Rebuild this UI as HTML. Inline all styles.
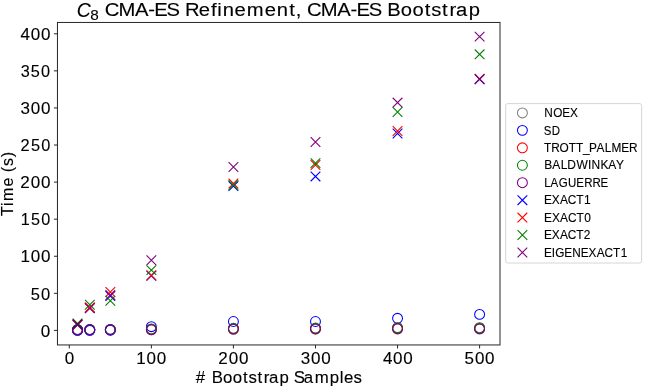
<!DOCTYPE html>
<html><head><meta charset="utf-8"><style>
html,body{margin:0;padding:0;background:#fff;}
svg{display:block;will-change:transform;filter:blur(0.3px);}
text{font-family:"Liberation Sans", sans-serif;fill:#000;stroke:#000;stroke-width:0.12px;font-kerning:none;font-variant-ligatures:none;}
</style></head><body>
<svg width="645" height="391" viewBox="0 0 645 391">
<rect width="645" height="391" fill="#fff"/>
<rect x="57.45" y="22.45" width="442.55" height="322.50" fill="none" stroke="#262626" stroke-width="1.0"/>
<line x1="53.95" y1="330.40" x2="57.45" y2="330.40" stroke="#262626" stroke-width="1.0"/>
<line x1="53.95" y1="293.32" x2="57.45" y2="293.32" stroke="#262626" stroke-width="1.0"/>
<line x1="53.95" y1="256.25" x2="57.45" y2="256.25" stroke="#262626" stroke-width="1.0"/>
<line x1="53.95" y1="219.17" x2="57.45" y2="219.17" stroke="#262626" stroke-width="1.0"/>
<line x1="53.95" y1="182.10" x2="57.45" y2="182.10" stroke="#262626" stroke-width="1.0"/>
<line x1="53.95" y1="145.02" x2="57.45" y2="145.02" stroke="#262626" stroke-width="1.0"/>
<line x1="53.95" y1="107.95" x2="57.45" y2="107.95" stroke="#262626" stroke-width="1.0"/>
<line x1="53.95" y1="70.87" x2="57.45" y2="70.87" stroke="#262626" stroke-width="1.0"/>
<line x1="53.95" y1="33.80" x2="57.45" y2="33.80" stroke="#262626" stroke-width="1.0"/>
<line x1="69.30" y1="344.95" x2="69.30" y2="348.45" stroke="#262626" stroke-width="1.0"/>
<line x1="151.36" y1="344.95" x2="151.36" y2="348.45" stroke="#262626" stroke-width="1.0"/>
<line x1="233.42" y1="344.95" x2="233.42" y2="348.45" stroke="#262626" stroke-width="1.0"/>
<line x1="315.48" y1="344.95" x2="315.48" y2="348.45" stroke="#262626" stroke-width="1.0"/>
<line x1="397.54" y1="344.95" x2="397.54" y2="348.45" stroke="#262626" stroke-width="1.0"/>
<line x1="479.60" y1="344.95" x2="479.60" y2="348.45" stroke="#262626" stroke-width="1.0"/>
<circle cx="77.51" cy="330.03" r="4.95" fill="none" stroke="#808080" stroke-width="1.05"/>
<circle cx="89.81" cy="329.96" r="4.95" fill="none" stroke="#808080" stroke-width="1.05"/>
<circle cx="110.33" cy="329.88" r="4.95" fill="none" stroke="#808080" stroke-width="1.05"/>
<circle cx="151.36" cy="329.81" r="4.95" fill="none" stroke="#808080" stroke-width="1.05"/>
<circle cx="233.42" cy="329.29" r="4.95" fill="none" stroke="#808080" stroke-width="1.05"/>
<circle cx="315.48" cy="329.14" r="4.95" fill="none" stroke="#808080" stroke-width="1.05"/>
<circle cx="397.54" cy="328.92" r="4.95" fill="none" stroke="#808080" stroke-width="1.05"/>
<circle cx="479.60" cy="328.99" r="4.95" fill="none" stroke="#808080" stroke-width="1.05"/>
<circle cx="77.51" cy="330.40" r="4.95" fill="none" stroke="#0000ff" stroke-width="1.05"/>
<circle cx="89.81" cy="330.33" r="4.95" fill="none" stroke="#0000ff" stroke-width="1.05"/>
<circle cx="110.33" cy="330.25" r="4.95" fill="none" stroke="#0000ff" stroke-width="1.05"/>
<circle cx="151.36" cy="326.69" r="4.95" fill="none" stroke="#0000ff" stroke-width="1.05"/>
<circle cx="233.42" cy="321.50" r="4.95" fill="none" stroke="#0000ff" stroke-width="1.05"/>
<circle cx="315.48" cy="321.50" r="4.95" fill="none" stroke="#0000ff" stroke-width="1.05"/>
<circle cx="397.54" cy="318.31" r="4.95" fill="none" stroke="#0000ff" stroke-width="1.05"/>
<circle cx="479.60" cy="314.38" r="4.95" fill="none" stroke="#0000ff" stroke-width="1.05"/>
<circle cx="77.51" cy="329.81" r="4.95" fill="none" stroke="#ff0000" stroke-width="1.05"/>
<circle cx="89.81" cy="329.73" r="4.95" fill="none" stroke="#ff0000" stroke-width="1.05"/>
<circle cx="110.33" cy="329.66" r="4.95" fill="none" stroke="#ff0000" stroke-width="1.05"/>
<circle cx="151.36" cy="329.29" r="4.95" fill="none" stroke="#ff0000" stroke-width="1.05"/>
<circle cx="233.42" cy="328.69" r="4.95" fill="none" stroke="#ff0000" stroke-width="1.05"/>
<circle cx="315.48" cy="328.47" r="4.95" fill="none" stroke="#ff0000" stroke-width="1.05"/>
<circle cx="397.54" cy="328.32" r="4.95" fill="none" stroke="#ff0000" stroke-width="1.05"/>
<circle cx="479.60" cy="328.40" r="4.95" fill="none" stroke="#ff0000" stroke-width="1.05"/>
<circle cx="77.51" cy="329.66" r="4.95" fill="none" stroke="#008000" stroke-width="1.05"/>
<circle cx="89.81" cy="329.58" r="4.95" fill="none" stroke="#008000" stroke-width="1.05"/>
<circle cx="110.33" cy="329.51" r="4.95" fill="none" stroke="#008000" stroke-width="1.05"/>
<circle cx="151.36" cy="328.99" r="4.95" fill="none" stroke="#008000" stroke-width="1.05"/>
<circle cx="233.42" cy="328.25" r="4.95" fill="none" stroke="#008000" stroke-width="1.05"/>
<circle cx="315.48" cy="328.03" r="4.95" fill="none" stroke="#008000" stroke-width="1.05"/>
<circle cx="397.54" cy="327.66" r="4.95" fill="none" stroke="#008000" stroke-width="1.05"/>
<circle cx="479.60" cy="327.73" r="4.95" fill="none" stroke="#008000" stroke-width="1.05"/>
<circle cx="77.51" cy="329.58" r="4.95" fill="none" stroke="#800080" stroke-width="1.05"/>
<circle cx="89.81" cy="329.51" r="4.95" fill="none" stroke="#800080" stroke-width="1.05"/>
<circle cx="110.33" cy="329.44" r="4.95" fill="none" stroke="#800080" stroke-width="1.05"/>
<circle cx="151.36" cy="329.66" r="4.95" fill="none" stroke="#800080" stroke-width="1.05"/>
<circle cx="233.42" cy="329.07" r="4.95" fill="none" stroke="#800080" stroke-width="1.05"/>
<circle cx="315.48" cy="328.92" r="4.95" fill="none" stroke="#800080" stroke-width="1.05"/>
<circle cx="397.54" cy="328.77" r="4.95" fill="none" stroke="#800080" stroke-width="1.05"/>
<circle cx="479.60" cy="328.84" r="4.95" fill="none" stroke="#800080" stroke-width="1.05"/>
<path d="M72.66 319.91L82.36 329.61M72.66 329.61L82.36 319.91" stroke="#0000ff" stroke-width="1.1" fill="none"/>
<path d="M84.97 303.08L94.66 312.78M84.97 312.78L94.66 303.08" stroke="#0000ff" stroke-width="1.1" fill="none"/>
<path d="M105.48 291.14L115.18 300.84M105.48 300.84L115.18 291.14" stroke="#0000ff" stroke-width="1.1" fill="none"/>
<path d="M146.51 270.98L156.21 280.68M146.51 280.68L156.21 270.98" stroke="#0000ff" stroke-width="1.1" fill="none"/>
<path d="M228.57 181.25L238.27 190.95M228.57 190.95L238.27 181.25" stroke="#0000ff" stroke-width="1.1" fill="none"/>
<path d="M310.63 171.54L320.33 181.24M310.63 181.24L320.33 171.54" stroke="#0000ff" stroke-width="1.1" fill="none"/>
<path d="M392.69 128.61L402.39 138.31M392.69 138.31L402.39 128.61" stroke="#0000ff" stroke-width="1.1" fill="none"/>
<path d="M474.75 74.48L484.45 84.18M474.75 84.18L484.45 74.48" stroke="#0000ff" stroke-width="1.1" fill="none"/>
<path d="M72.66 320.14L82.36 329.84M72.66 329.84L82.36 320.14" stroke="#ff0000" stroke-width="1.1" fill="none"/>
<path d="M84.97 302.71L94.66 312.41M84.97 312.41L94.66 302.71" stroke="#ff0000" stroke-width="1.1" fill="none"/>
<path d="M105.48 287.07L115.18 296.77M105.48 296.77L115.18 287.07" stroke="#ff0000" stroke-width="1.1" fill="none"/>
<path d="M146.51 270.46L156.21 280.16M146.51 280.16L156.21 270.46" stroke="#ff0000" stroke-width="1.1" fill="none"/>
<path d="M228.57 178.58L238.27 188.28M228.57 188.28L238.27 178.58" stroke="#ff0000" stroke-width="1.1" fill="none"/>
<path d="M310.63 160.20L320.33 169.90M310.63 169.90L320.33 160.20" stroke="#ff0000" stroke-width="1.1" fill="none"/>
<path d="M392.69 126.09L402.39 135.79M392.69 135.79L402.39 126.09" stroke="#ff0000" stroke-width="1.1" fill="none"/>
<path d="M474.75 73.88L484.45 83.58M474.75 83.58L484.45 73.88" stroke="#ff0000" stroke-width="1.1" fill="none"/>
<path d="M72.66 318.65L82.36 328.35M72.66 328.35L82.36 318.65" stroke="#008000" stroke-width="1.1" fill="none"/>
<path d="M84.97 299.82L94.66 309.52M84.97 309.52L94.66 299.82" stroke="#008000" stroke-width="1.1" fill="none"/>
<path d="M105.48 295.82L115.18 305.52M105.48 305.52L115.18 295.82" stroke="#008000" stroke-width="1.1" fill="none"/>
<path d="M146.51 265.27L156.21 274.97M146.51 274.97L156.21 265.27" stroke="#008000" stroke-width="1.1" fill="none"/>
<path d="M228.57 180.14L238.27 189.84M228.57 189.84L238.27 180.14" stroke="#008000" stroke-width="1.1" fill="none"/>
<path d="M310.63 158.27L320.33 167.97M310.63 167.97L320.33 158.27" stroke="#008000" stroke-width="1.1" fill="none"/>
<path d="M392.69 107.18L402.39 116.88M392.69 116.88L402.39 107.18" stroke="#008000" stroke-width="1.1" fill="none"/>
<path d="M474.75 49.49L484.45 59.19M474.75 59.19L484.45 49.49" stroke="#008000" stroke-width="1.1" fill="none"/>
<path d="M72.66 319.69L82.36 329.39M72.66 329.39L82.36 319.69" stroke="#800080" stroke-width="1.1" fill="none"/>
<path d="M84.97 303.38L94.66 313.08M84.97 313.08L94.66 303.38" stroke="#800080" stroke-width="1.1" fill="none"/>
<path d="M105.48 290.25L115.18 299.95M105.48 299.95L115.18 290.25" stroke="#800080" stroke-width="1.1" fill="none"/>
<path d="M146.51 255.48L156.21 265.18M146.51 265.18L156.21 255.48" stroke="#800080" stroke-width="1.1" fill="none"/>
<path d="M228.57 162.12L238.27 171.82M228.57 171.82L238.27 162.12" stroke="#800080" stroke-width="1.1" fill="none"/>
<path d="M310.63 137.13L320.33 146.83M310.63 146.83L320.33 137.13" stroke="#800080" stroke-width="1.1" fill="none"/>
<path d="M392.69 97.76L402.39 107.46M392.69 107.46L402.39 97.76" stroke="#800080" stroke-width="1.1" fill="none"/>
<path d="M474.75 31.77L484.45 41.47M474.75 41.47L484.45 31.77" stroke="#800080" stroke-width="1.1" fill="none"/>
<g opacity="0.45"><path d="M474.75 74.48L484.45 84.18M474.75 84.18L484.45 74.48" stroke="#0000ff" stroke-width="1.1" fill="none"/></g>
<g opacity="0.45"><path d="M84.97 302.71L94.66 312.41M84.97 312.41L94.66 302.71" stroke="#ff0000" stroke-width="1.1" fill="none"/></g>
<g opacity="0.3"><path d="M72.66 319.17L82.36 328.87M72.66 328.87L82.36 319.17" stroke="#000000" stroke-width="1.1" fill="none"/></g>
<g opacity="0.4"><circle cx="77.51" cy="330.40" r="4.95" fill="none" stroke="#0000ff" stroke-width="1.05"/></g>
<g opacity="0.4"><circle cx="89.81" cy="330.33" r="4.95" fill="none" stroke="#0000ff" stroke-width="1.05"/></g>
<g opacity="0.4"><circle cx="110.33" cy="330.25" r="4.95" fill="none" stroke="#0000ff" stroke-width="1.05"/></g>
<rect x="505.7" y="103.6" width="135.90" height="159.40" rx="2" ry="2" fill="#fff" stroke="#d6d6d6" stroke-width="1.0"/>
<circle cx="522.40" cy="112.90" r="4.95" fill="none" stroke="#808080" stroke-width="1.05"/>
<circle cx="522.40" cy="130.35" r="4.95" fill="none" stroke="#0000ff" stroke-width="1.05"/>
<circle cx="522.40" cy="147.80" r="4.95" fill="none" stroke="#ff0000" stroke-width="1.05"/>
<circle cx="522.40" cy="165.25" r="4.95" fill="none" stroke="#008000" stroke-width="1.05"/>
<circle cx="522.40" cy="182.70" r="4.95" fill="none" stroke="#800080" stroke-width="1.05"/>
<path d="M517.55 195.30L527.25 205.00M517.55 205.00L527.25 195.30" stroke="#0000ff" stroke-width="1.1" fill="none"/>
<path d="M517.55 212.75L527.25 222.45M517.55 222.45L527.25 212.75" stroke="#ff0000" stroke-width="1.1" fill="none"/>
<path d="M517.55 230.20L527.25 239.90M517.55 239.90L527.25 230.20" stroke="#008000" stroke-width="1.1" fill="none"/>
<path d="M517.55 247.65L527.25 257.35M517.55 257.35L527.25 247.65" stroke="#800080" stroke-width="1.1" fill="none"/>
<text x="39.40" y="336.75" font-size="16.41" transform="scale(1.0376,1)">0</text>
<text x="30.33 40.48" y="299.79" font-size="16.32" transform="scale(1.0123,1)">50</text>
<text x="19.54 29.39 39.19" y="261.98" font-size="16.29" transform="scale(1.0453,1)">100</text>
<text x="20.86 31.16 41.51" y="224.73" font-size="16.29" transform="scale(0.9941,1)">150</text>
<text x="19.46 29.49 39.33" y="187.58" font-size="16.36" transform="scale(1.0410,1)">200</text>
<text x="20.40 30.76 41.00" y="150.92" font-size="16.29" transform="scale(1.0047,1)">250</text>
<text x="19.66 29.49 39.33" y="113.64" font-size="16.37" transform="scale(1.0400,1)">300</text>
<text x="20.72 30.93 41.25" y="76.97" font-size="16.32" transform="scale(0.9969,1)">350</text>
<text x="19.64 29.46 39.30" y="39.67" font-size="16.36" transform="scale(1.0408,1)">400</text>
<text x="63.07" y="363.54" font-size="16.61" transform="scale(1.0252,1)">0</text>
<text x="132.48 142.49 152.46" y="363.55" font-size="16.56" transform="scale(1.0280,1)">100</text>
<text x="212.59 222.76 232.73" y="364.00" font-size="16.58" transform="scale(1.0272,1)">200</text>
<text x="293.08 303.04 313.02" y="363.56" font-size="16.60" transform="scale(1.0260,1)">300</text>
<text x="371.33 381.24 391.17" y="363.58" font-size="16.51" transform="scale(1.0312,1)">400</text>
<text x="451.59 461.59 471.54" y="363.64" font-size="16.55" transform="scale(1.0288,1)">500</text>
<text x="76.74" y="16.78" font-size="20.36" textLength="13.93" lengthAdjust="spacingAndGlyphs" font-style="italic">C</text>
<text x="90.27" y="19.82" font-size="15.38" textLength="8.51" lengthAdjust="spacingAndGlyphs">8</text>
<text x="94.45 106.90 121.65 133.69 139.05 150.10 162.26 166.59 179.11 190.10 195.83 200.62 211.32 222.42 238.56 249.28 260.53 266.48 271.55 276.68 289.13 303.88 315.92 321.28 332.33 344.49 348.94 361.12 371.61 382.72 388.68 398.37 405.08 410.90 422.31" y="15.76" font-size="18.23" transform="scale(1.1098,1)">CMA-ES Refinement, CMA-ES Bootstrap</text>
<text x="185.14 193.99 200.37 211.00 220.15 229.85 235.06 243.51 249.37 254.45 264.41 273.26 277.81 287.37 297.63 311.92 321.34 325.38 334.41" y="382.99" font-size="15.91" transform="scale(1.0573,1)"># Bootstrap Samples</text>
<g transform="translate(0.0,215.7) rotate(-90)"><text x="-0.30 9.46 14.21 28.41 37.09 42.18 48.29 56.78" y="12.91" font-size="15.60" transform="scale(1.0299,1)">Time (s)</text></g>
<text x="585.47 594.93 604.68 613.13" y="116.66" font-size="12.67" transform="scale(0.9298,1)">NOEX</text>
<text x="600.30 609.12" y="134.88" font-size="12.67" transform="scale(0.9060,1)">SD</text>
<text x="588.76 596.65 605.62 615.72 623.59 631.10 637.69 645.75 654.75 661.84 672.48 680.93" y="151.96" font-size="12.81" transform="scale(0.9238,1)">TROTT_PALMER</text>
<text x="573.18 581.78 590.54 597.55 607.15 619.41 623.14 632.58 640.67 648.81" y="168.62" font-size="12.63" transform="scale(0.9494,1)">BALDWINKAY</text>
<text x="598.88 606.00 614.84 625.08 634.32 642.92 652.02 660.80" y="186.82" font-size="12.67" transform="scale(0.9086,1)">LAGUERRE</text>
<text x="577.44 585.78 594.44 602.78 611.83 619.99" y="203.74" font-size="12.67" transform="scale(0.9419,1)">EXACT1</text>
<text x="577.15 585.49 594.14 602.47 611.51 619.69" y="221.65" font-size="12.67" transform="scale(0.9427,1)">EXACT0</text>
<text x="576.98 585.32 593.96 602.30 611.34 619.36" y="238.57" font-size="12.67" transform="scale(0.9427,1)">EXACT2</text>
<text x="584.46 592.90 596.55 606.22 614.73 623.86 632.30 641.06 649.51 658.65 666.91" y="256.98" font-size="12.67" transform="scale(0.9308,1)">EIGENEXACT1</text>
</svg>
</body></html>
